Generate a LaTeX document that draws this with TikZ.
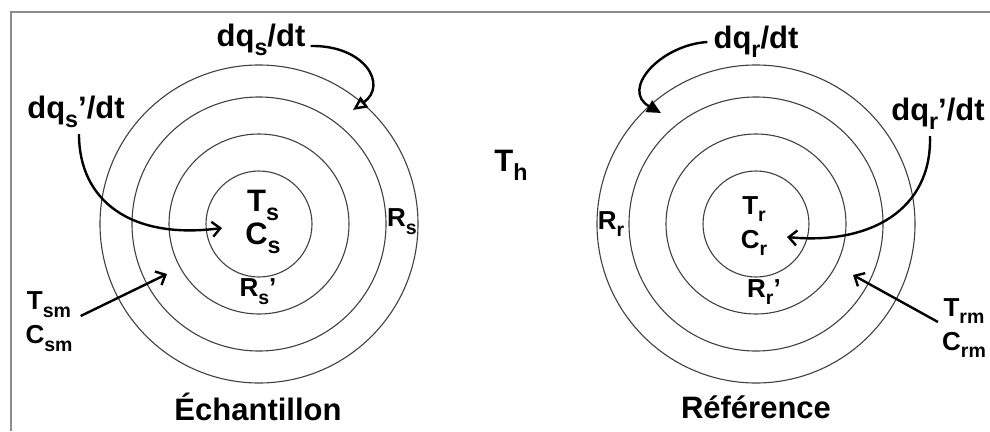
\documentclass[tikz,border=0pt]{standalone}
\usepackage{fontspec}
\setmainfont{Liberation Sans}
\usetikzlibrary{arrows.meta}
\newcommand{\lo}[1]{\raisebox{-0.3em}{\scalebox{0.75}{#1}}}
\tikzset{
  ring/.style={draw=black!75, line width=1.1pt},
  frameline/.style={draw=black!45, line width=1.4pt},
  biglabel/.style={font=\fontsize{31}{33}\selectfont\bfseries, inner sep=0pt, align=center},
  midlabel/.style={font=\fontsize{26}{34}\selectfont\bfseries, inner sep=0pt, align=center},
  fluxarrow/.style={line width=2.4pt},
  openflux/.style={fluxarrow, -{Triangle[open,length=14pt,width=13pt]}},
  fillflux/.style={fluxarrow, -{Triangle[length=14pt,width=13pt]}},
  barbarrow/.style={fluxarrow, -{Straight Barb[length=8pt,width=15pt]}}
}

\begin{document}
\begin{tikzpicture}[x=1pt, y=-1pt]
  \useasboundingbox (0,0) rectangle (990,431);
  \draw[frameline] (11,431) -- (11,12) -- (990,12);

  % sample (left)
  \coordinate (sctr) at (259,224);
  \foreach \r in {159,127,90,53}
    \draw[ring] (sctr) circle[radius=\r pt];
  \node[biglabel] (dqs) at (261,40) {dq\lo{s}/dt};
  \node[biglabel] (dqsp) at (76,112) {dq\lo{s}’/dt};
  \node[biglabel] (tcs) at (263,222) {T\lo{s}\\C\lo{s}};
  \node[midlabel] (rs) at (402,222) {R\lo{s}};
  \node[midlabel] (rsp) at (258,292) {R\lo{s}’};
  \node[midlabel] (tsm) at (49,322) {T\lo{sm}\\C\lo{sm}};
  \node[biglabel] (ech) at (258,407) {Échantillon};
  \coordinate (dqstip) at (353,110);
  \coordinate (dqsptip) at (222,228);
  \coordinate (tsmtip) at (167,274);

  \node[biglabel] (th) at (511,165) {T\lo{h}};

  % reference (right)
  \coordinate (rctr) at (756,224);
  \foreach \r in {159,127,90,53}
    \draw[ring] (rctr) circle[radius=\r pt];
  \node[biglabel] (dqr) at (756,42) {dq\lo{r}/dt};
  \node[biglabel] (dqrp) at (938,114) {dq\lo{r}’/dt};
  \node[midlabel] (tcr) at (754,226) {T\lo{r}\\C\lo{r}};
  \node[midlabel] (rr) at (611,224) {R\lo{r}};
  \node[midlabel] (rrp) at (764,292) {R\lo{r}’};
  \node[midlabel] (trm) at (964,328) {T\lo{rm}\\C\lo{rm}};
  \node[biglabel] (ref) at (756,407) {Référence};
  \coordinate (dqrtip) at (661,113);
  \coordinate (dqrptip) at (787,237);
  \coordinate (trmtip) at (853,275);

  \draw[openflux] (dqs.east) ++(5,6) .. controls (365,45) and (388,85) .. (dqstip);
  \draw[barbarrow] (dqsp.south) ++(3,6) .. controls (79,200) and (130,240) .. (dqsptip);
  \draw[barbarrow] (tsm.east) ++(8,-6) -- (tsmtip);
  \draw[fillflux] (dqr.west) ++(-6,0) .. controls (660,45) and (620,90) .. (dqrtip);
  \draw[barbarrow] (dqrp.south) ++(-8,6) .. controls (932,210) and (870,245) .. (dqrptip);
  \draw[barbarrow] (trm.west) ++(-4,-6) -- (trmtip);
\end{tikzpicture}
\end{document}
